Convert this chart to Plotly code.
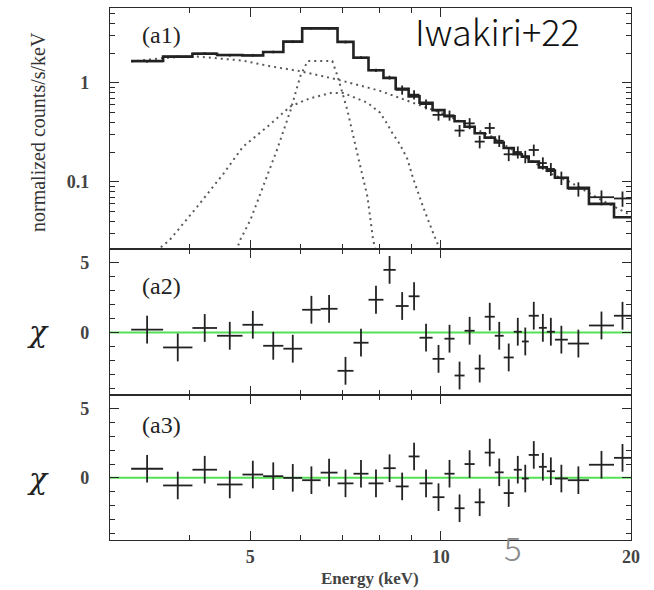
import math
import plotly.graph_objects as go

# Energy grouping of the spectrum (keV), 33 bins
bin_edges = [3.24, 3.64, 4.05, 4.43, 4.86, 5.24, 5.64, 6.04, 6.46, 6.87, 7.28,
             7.69, 8.12, 8.49, 8.90, 9.26, 9.71, 10.14, 10.52, 10.91, 11.32,
             11.74, 12.18, 12.58, 13.05, 13.44, 13.78, 14.30, 14.72, 15.16,
             15.89, 17.16, 18.80, 20.0]

# (a1) best-fit model per bin and observed spectrum (counts/s/keV)
model_a1 = [1.66, 1.84, 1.97, 1.91, 1.89, 2.05, 2.61, 3.55, 3.55, 2.59, 1.79,
            1.34, 1.12, 0.87, 0.73, 0.63, 0.53, 0.46, 0.41, 0.36, 0.31, 0.28,
            0.25, 0.22, 0.19, 0.18, 0.16, 0.14, 0.13, 0.11, 0.087, 0.060, 0.044]
data_a1 = [1.65, 1.84, 1.98, 1.90, 1.90, 2.05, 2.60, 3.56, 3.55, 2.58, 1.80,
           1.34, 1.13, 0.85, 0.76, 0.61, 0.475, 0.47, 0.33, 0.39, 0.255, 0.35,
           0.26, 0.19, 0.20, 0.18, 0.21, 0.155, 0.135, 0.11, 0.085, 0.070, 0.068]
data_err_a1 = [0.05, 0.05, 0.06, 0.06, 0.06, 0.06, 0.08, 0.10, 0.10, 0.08, 0.06,
               0.05, 0.05, 0.09, 0.08, 0.07, 0.06, 0.055, 0.045, 0.05, 0.037, 0.045,
               0.035, 0.028, 0.028, 0.026, 0.028, 0.022, 0.02, 0.017, 0.014, 0.012, 0.012]

# Model components (dotted)
cont_energy = [3.24, 3.64, 4.05, 4.43, 4.86, 5.38, 6.0, 6.87, 8.02, 9.04, 10.0,
               11.0, 12.0, 13.0, 14.0, 15.0, 16.0, 17.0, 18.0, 20.0]
cont_flux = [1.64, 1.78, 1.86, 1.78, 1.68, 1.47, 1.31, 1.08, 0.83, 0.63, 0.50,
             0.38, 0.29, 0.21, 0.16, 0.12, 0.10, 0.08, 0.065, 0.046]
broad_energy = [3.55, 3.73, 4.12, 4.53, 4.87, 5.32, 5.79, 6.22, 6.70, 7.02, 7.66,
                8.02, 8.20, 8.39, 8.62, 8.86, 9.04, 9.38, 9.74, 10.0]
broad_flux = [0.02, 0.026, 0.056, 0.12, 0.227, 0.36, 0.58, 0.70, 0.79, 0.79, 0.63,
              0.50, 0.40, 0.31, 0.24, 0.17, 0.11, 0.056, 0.03, 0.02]
narrow_energy = [4.75, 4.82, 5.0, 5.24, 5.51, 5.79, 6.0, 6.16, 6.74, 6.87, 7.12,
                 7.38, 7.66, 7.82, 7.90]
narrow_flux = [0.02, 0.026, 0.041, 0.089, 0.21, 0.53, 1.17, 1.66, 1.66, 1.17, 0.53,
               0.195, 0.071, 0.026, 0.02]

# Residuals (chi) for the two fits
resid_a2 = [0.2, -1.08, 0.32, -0.24, 0.55, -0.96, -1.17, 1.63, 1.7, -2.76, -0.74,
            2.35, 4.5, 1.9, 2.6, -0.38, -1.9, -0.45, -3.1, 0.12, -2.6, 1.13,
            -0.24, -1.8, 0.05, -0.65, 1.2, 0.33, 0.05, -0.52, -0.8, 0.5, 1.2]
resid_a3 = [0.66, -0.55, 0.59, -0.48, 0.24, 0.12, 0.0, -0.17, 0.38, -0.4, 0.3,
            -0.4, 0.7, -0.62, 1.55, -0.4, -1.4, 0.3, -2.2, 1.0, -1.77, 1.83,
            0.4, -1.1, 0.59, -0.05, 1.66, 0.8, 0.48, -0.05, -0.17, 0.95, 1.45]

lo = bin_edges[:-1]
hi = bin_edges[1:]
centers = [math.sqrt(a * b) for a, b in zip(lo, hi)]
x_minus = [c - a for c, a in zip(centers, lo)]
x_plus = [b - c for c, b in zip(centers, hi)]

INK = "#222222"
DOT = "#5a5a5a"
SERIF = "Liberation Serif"

# page geometry helpers (plot area spans 110..631 px horizontally, 8..540 px vertically)
L, R, T, B = 110, 631, 8, 540
def px(x):
    return (x - L) / (R - L)
def py(y):
    return (B - y) / (B - T)

fig = go.Figure()

for xs, ys in [(cont_energy, cont_flux), (broad_energy, broad_flux),
               (narrow_energy, narrow_flux)]:
    fig.add_trace(go.Scatter(x=xs, y=ys, mode="lines", xaxis="x", yaxis="y",
                             line=dict(color=DOT, width=2, dash="2px,4px"),
                             hoverinfo="skip", showlegend=False))

fig.add_trace(go.Scatter(x=lo + [hi[-1]], y=model_a1 + [model_a1[-1]],
                         mode="lines", line_shape="hv", xaxis="x", yaxis="y",
                         line=dict(color=INK, width=2.6), showlegend=False))

cross_err_x = dict(type="data", symmetric=False, array=x_plus, arrayminus=x_minus,
                   color=INK, thickness=1.8, width=0)

fig.add_trace(go.Scatter(x=centers, y=data_a1, mode="markers", xaxis="x", yaxis="y",
                         marker=dict(size=1, color=INK),
                         error_x=cross_err_x,
                         error_y=dict(type="data", array=data_err_a1, color=INK,
                                      thickness=1.8, width=0),
                         showlegend=False))

for resid, xa, ya in [(resid_a2, "x2", "y2"), (resid_a3, "x3", "y3")]:
    fig.add_trace(go.Scatter(x=centers, y=resid, mode="markers", xaxis=xa, yaxis=ya,
                             marker=dict(size=1, color=INK),
                             error_x=cross_err_x,
                             error_y=dict(type="constant", value=1, color=INK,
                                          thickness=1.8, width=0),
                             showlegend=False))

tick_font = dict(family=SERIF, size=18, color="#444444", weight="bold")
frame = dict(showline=True, linecolor="#2a2a2a", linewidth=1.4, mirror="allticks",
             ticks="inside", tickcolor="#2a2a2a", showgrid=False, zeroline=False)

xr = [math.log10(3.0), math.log10(20.0)]
x_common = dict(frame, type="log", range=xr, tickvals=[5, 10, 20], ticktext=["5", "10", "20"],
                ticklen=9, tickwidth=1.3,
                minor=dict(tickvals=[4, 6, 7, 8, 9], ticks="inside", ticklen=5,
                           tickcolor="#2a2a2a", tickwidth=1.2),
                tickfont=tick_font)

d1 = [py(249), 1.0]
d2 = [py(395), py(249)]
d3 = [0.0, py(395)]

log_minor = [0.02, 0.03, 0.04, 0.05, 0.06, 0.07, 0.08, 0.09,
             0.2, 0.3, 0.4, 0.5, 0.6, 0.7, 0.8, 0.9, 2, 3, 4, 5]
chi_axis = dict(frame, range=[-4.5, 6], tickvals=[0, 5], ticktext=["0", "5"],
                ticklen=9, tickwidth=1.3, tickfont=tick_font, ticklabelstandoff=16,
                minor=dict(tickvals=[-4, -3, -2, -1, 1, 2, 3, 4], ticks="inside",
                           ticklen=5, tickcolor="#2a2a2a", tickwidth=1.2))

fig.update_layout(
    width=654, height=590,
    margin=dict(l=L, r=654 - R, t=T, b=590 - B),
    paper_bgcolor="white", plot_bgcolor="white",
    xaxis=dict(x_common, anchor="y", showticklabels=False),
    xaxis2=dict(x_common, anchor="y2", matches="x", showticklabels=False),
    xaxis3=dict(x_common, anchor="y3", matches="x", showticklabels=True,
                ticklabelstandoff=0),
    yaxis=dict(frame, domain=d1, anchor="x", type="log",
               range=[math.log10(0.021), math.log10(5.7)],
               tickvals=[0.1, 1], ticktext=["0.1", "1"], ticklen=9, tickwidth=1.3,
               tickfont=tick_font, ticklabelstandoff=16,
               minor=dict(tickvals=log_minor, ticks="inside", ticklen=5,
                          tickcolor="#2a2a2a", tickwidth=1.2)),
    yaxis2=dict(chi_axis, domain=d2, anchor="x2"),
    yaxis3=dict(chi_axis, domain=d3, anchor="x3"),
    showlegend=False,
)

for xref, yref in [("x2", "y2"), ("x3", "y3")]:
    fig.add_shape(type="line", xref=xref + " domain", x0=0, x1=1,
                  yref=yref, y0=0, y1=0, layer="below",
                  line=dict(color="#55e055", width=2))

labels = [
    ("(a1)", px(161), py(35)),
    ("(a2)", px(161), py(286)),
    ("(a3)", px(161), py(425)),
]
for text, ax, ay in labels:
    fig.add_annotation(text=text, x=ax, y=ay, xref="paper", yref="paper",
                       showarrow=False, xanchor="center", yanchor="middle",
                       font=dict(family=SERIF, size=24, color=INK))

fig.add_annotation(text="normalized counts/s/keV", x=px(38), y=py(132),
                   xref="paper", yref="paper", showarrow=False, textangle=-90,
                   xanchor="center", yanchor="middle",
                   font=dict(family=SERIF, size=20, color="#333333"))
for cy in [331, 478]:
    fig.add_annotation(text="χ", x=px(38), y=py(cy), xref="paper", yref="paper",
                       showarrow=False, xanchor="center", yanchor="middle",
                       font=dict(family="DejaVu Serif", size=30, color=INK,
                                 style="italic"))

fig.add_annotation(text="Energy (keV)", x=px(370), y=py(578), xref="paper", yref="paper",
                   showarrow=False, xanchor="center", yanchor="middle",
                   font=dict(family=SERIF, size=17, color="#444444", weight="bold"))

fig.add_annotation(text="Iwakiri+22", x=px(497), y=py(30), xref="paper", yref="paper",
                   showarrow=False, xanchor="center", yanchor="middle",
                   font=dict(family="Noto Sans CJK JP", size=36, color="#111111",
                             weight=300))
fig.add_annotation(text="5", x=px(513), y=py(547), xref="paper", yref="paper",
                   showarrow=False, xanchor="center", yanchor="middle",
                   font=dict(family="Noto Sans CJK JP", size=33, color="#888888",
                             weight=300))

fig.write_html("out.html")
